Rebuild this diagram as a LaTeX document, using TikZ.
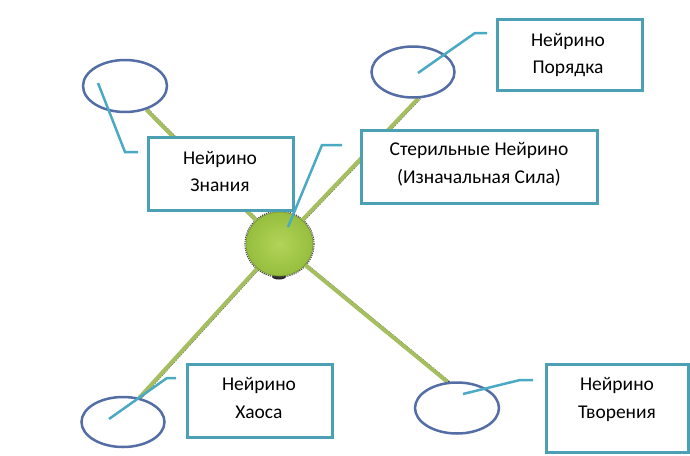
\documentclass[tikz,border=0pt]{standalone}
\usepackage{fontspec}
\setmainfont{Carlito}
\usetikzlibrary{shapes.geometric,backgrounds}
\definecolor{boxc}{RGB}{75,160,180}
\definecolor{callc}{RGB}{75,170,195}
\definecolor{ellc}{RGB}{84,110,165}
\definecolor{spokec}{RGB}{165,190,95}
\definecolor{ballin}{RGB}{178,212,88}
\definecolor{ballout}{RGB}{150,190,62}
\begin{document}
\begin{tikzpicture}[x=1pt,y=-1pt,
  box/.style={draw=boxc, line width=3pt, fill=white, rectangle, inner sep=0pt},
  lbl/.style={align=center, font=\fontsize{19.5}{27.5}\selectfont, inner sep=0pt},
  ell/.style={ellipse, draw=ellc, line width=2.5pt, fill=white, inner sep=0pt},
  spoke/.style={spokec, line width=4pt},
  spokeshadow/.style={black!75, densely dotted, line width=1.6pt},
  callout/.style={callc, line width=2.5pt}]
\useasboundingbox (0,0) rectangle (690,455);

% central ball
\node[ellipse, minimum width=67pt, minimum height=64pt, inner sep=0pt,
      inner color=ballin, outer color=ballout, draw=ballout!75!black, line width=0.6pt] (c) at (279.5,244) {};

% ellipses
\node[ell, minimum width=84pt, minimum height=52pt] (e1) at (125,86) {};
\node[ell, minimum width=83pt, minimum height=51pt] (e2) at (413,72) {};
\node[ell, minimum width=83pt, minimum height=50pt] (e3) at (123,422) {};
\node[ell, minimum width=84pt, minimum height=51pt] (e4) at (457,408) {};

% boxes
\node[box, minimum width=145pt, minimum height=73pt] (b1) at (220.5,173.5) {};
\node[box, minimum width=236pt, minimum height=73pt] (b2) at (479,166.5) {};
\node[box, minimum width=145pt, minimum height=71pt] (b3) at (569.5,54.5) {};
\node[box, minimum width=145pt, minimum height=73pt] (b4) at (259.5,400.5) {};
\node[box, minimum width=142pt, minimum height=88pt] (b5) at (617,408) {};

% labels
\node[lbl] (t1) at (220,171.5) {Нейрино\\Знания};
\node[lbl] (t2) at (479,164.5) {Стерильные Нейрино\\(Изначальная Сила)};
\node[lbl] (t3) at (568,55) {Нейрино\\Порядка};
\node[lbl] (t4) at (259,398) {Нейрино\\Хаоса};
\node[lbl] (t5) at (617,399.5) {Нейрино\\Творения};

% spokes (under everything)
\begin{scope}[on background layer]
  \fill[black!85] (279,276.5) ellipse (7 and 3);
  \draw[black!70, densely dotted, line width=1.2pt] (c.center) ellipse (34.5 and 33);
  \foreach \e/\a in {e1/-48, e2/-79, e3/56, e4/110} {
    \draw[spokeshadow, transform canvas={xshift=2pt}] (c.center) -- (\e.\a);
    \draw[spoke] (c.center) -- (\e.\a);
  }
\end{scope}

% callouts
\coordinate (k1) at (98,83);   \coordinate (k2) at (125,152); \coordinate (k3) at (138,152);
\coordinate (s1) at (288,227); \coordinate (s2) at (322,145); \coordinate (s3) at (342,145);
\coordinate (o1) at (418,73);  \coordinate (o2) at (475,33);  \coordinate (o3) at (487,33);
\coordinate (h1) at (109,419); \coordinate (h2) at (167,378); \coordinate (h3) at (176,378);
\coordinate (r1) at (463,394); \coordinate (r2) at (520,380); \coordinate (r3) at (533,380);
\draw[callout] (k1) -- (k2) -- (k3);
\draw[callout] (s1) -- (s2) -- (s3);
\draw[callout] (o1) -- (o2) -- (o3);
\draw[callout] (h1) -- (h2) -- (h3);
\draw[callout] (r1) -- (r2) -- (r3);
\end{tikzpicture}
\end{document}
